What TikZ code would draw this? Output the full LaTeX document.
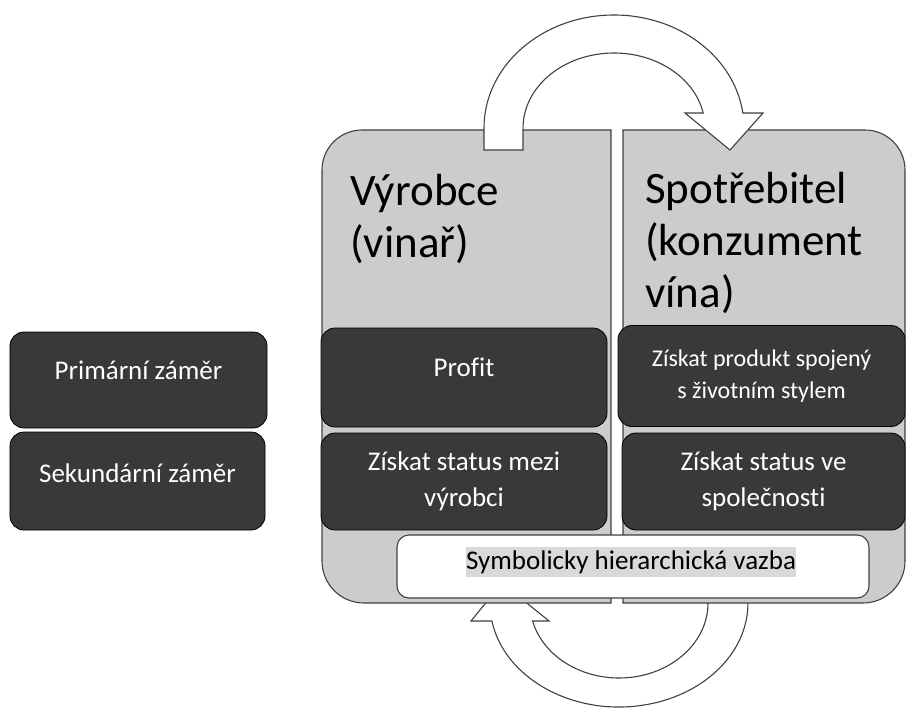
\documentclass[tikz,border=0pt]{standalone}
\usepackage{fontspec}
\setmainfont{Carlito}[Ligatures=NoCommon]
\usetikzlibrary{positioning}

\definecolor{panelgray}{HTML}{CCCCCC}
\definecolor{boxdark}{HTML}{3A3838}
\definecolor{edgegray}{HTML}{404040}
\definecolor{marker}{HTML}{D9D9D9}

\tikzset{
  panel/.style={fill=panelgray, draw=edgegray, line width=1.1pt},
  darkbox/.style={fill=boxdark, draw=black, line width=0.8pt, rounded corners=14bp, inner sep=0pt},
  darktext/.style={text=white, font=\fontsize{27bp}{36bp}\selectfont, align=center, inner sep=0pt},
  smalltext/.style={darktext, font=\fontsize{24bp}{32bp}\selectfont},
  headtext/.style={font=\fontsize{45bp}{52bp}\selectfont, align=left, inner sep=0pt},
  bigarrow/.style={fill=white, draw=edgegray, line width=1.1pt},
}

\begin{document}
\begin{tikzpicture}[x=1bp, y=-1bp]
  \useasboundingbox (0,0) rectangle (907,713);

  % lower arrow sits behind the two panels
  \draw[bigarrow] (708,585) -- (708,603)
    arc[start angle=0, end angle=166.1, x radius=89, y radius=75]
    -- (549,621) -- (502,583) -- (471,621) -- (491.9,621)
    arc[start angle=170.04, end angle=0, x radius=129, y radius=104]
    -- (748,585) -- cycle;

  % the two panels, rounded on their outer side only
  \draw[panel] (611,130) -- (362,130)
    arc[start angle=-90, end angle=-180, radius=40] -- (322,561)
    arc[start angle=180, end angle=90, radius=42] -- (611,603) -- cycle;
  \draw[panel] (623,130) -- (865,130)
    arc[start angle=-90, end angle=0, radius=40] -- (905,561)
    arc[start angle=0, end angle=90, radius=42] -- (623,603) -- cycle;

  % upper arrow from producer to consumer
  \draw[bigarrow] (484,150) -- (484,128)
    arc[start angle=180, end angle=352.37, x radius=130, y radius=113]
    -- (763,113) -- (730,150) -- (685,113) -- (703.2,113)
    arc[start angle=348.46, end angle=180, x radius=91, y radius=75]
    -- (523,150) -- cycle;

  % base anchor = baseline of the last line
  \node[headtext, anchor=base west] (producer) at (350,257) {Výrobce\\(vinař)};
  \node[headtext, anchor=base west] (consumer) at (645,307) {Spotřebitel\\(konzument\\vína)};

  % legend on the left
  \node[darkbox, minimum width=257bp, minimum height=96bp] (primbox) at (138.5,380) {};
  \node[darktext] (prim) at (138.5,370) {Primární záměr};
  \node[darkbox, minimum width=255bp, minimum height=98bp] (sekbox) at (137.5,481) {};
  \node[darktext] (sek) at (137.5,473) {Sekundární záměr};

  % goals of both sides
  \node[darkbox, minimum width=286bp, minimum height=99bp] (profitbox) at (464,377.5) {};
  \node[darktext] (profit) at (464,367) {Profit};
  \node[darkbox, darktext, minimum width=286bp, minimum height=97bp] (statusprod) at (464,481.5)
    {Získat status mezi\\výrobci};
  \node[darkbox, smalltext, minimum width=287bp, minimum height=101bp] (lifestyle) at (761.5,376)
    {Získat produkt spojený\\s životním stylem};
  \node[darkbox, darktext, minimum width=283bp, minimum height=97bp] (statuscons) at (763.5,481.5)
    {Získat status ve\\společnosti};

  % common bond across both panels
  \node[fill=white, draw=edgegray, line width=1.1pt, rounded corners=12bp,
    minimum width=472bp, minimum height=63bp] (bond) at (633,566.5) {};
  \node[fill=marker, font=\fontsize{27bp}{36bp}\selectfont, inner xsep=0pt, inner ysep=3bp]
    (bondtext) at (631,562) {Symbolicky hierarchická vazba};
\end{tikzpicture}
\end{document}
